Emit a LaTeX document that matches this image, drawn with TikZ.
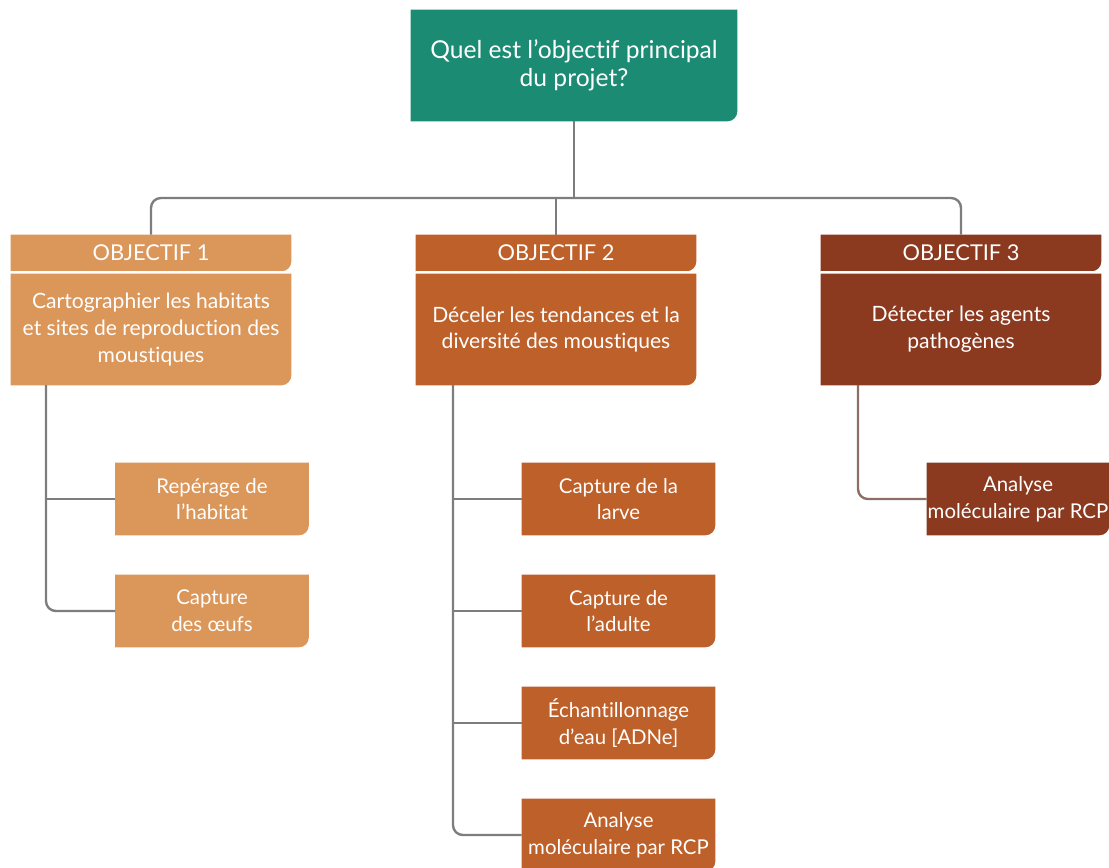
\documentclass[tikz,border=0pt]{standalone}
\usepackage{fontspec}
\setmainfont{Lato}[Ligatures={NoCommon,NoRare,NoContextual}]
\usetikzlibrary{positioning, backgrounds, calc}

\definecolor{questionTeal}{RGB}{27,139,116}
\definecolor{objOne}{RGB}{219,150,90}
\definecolor{objTwo}{RGB}{190,96,42}
\definecolor{objThree}{RGB}{139,58,32}
\definecolor{linkGray}{RGB}{125,125,128}
\definecolor{linkBrown}{RGB}{140,110,100}

\tikzset{
	card/.style={rectangle, text=white, align=center, inner sep=0pt, font=\fontsize{14.5}{19}\selectfont},
	header/.style={card, minimum width=7cm, minimum height=0.9cm, font=\fontsize{15.5}{19}\selectfont},
	body/.style={card, minimum width=7cm, minimum height=2.775cm, font=\fontsize{15}{19}\selectfont},
	task/.style={card, minimum width=4.825cm, minimum height=1.8cm},
	link/.style={draw=linkGray, line width=1.7pt, rounded corners=7pt},
}

% fill with the bottom right corner rounded
\newcommand{\cardfill}[2]{\fill[#2] (#1.north west) -- (#1.north east) --
	([yshift=7pt]#1.south east) arc[start angle=0, end angle=-90, radius=7pt] --
	(#1.south west) -- cycle;}

\begin{document}
\begin{tikzpicture}[x=0.025cm, y=-0.025cm]
			
			\useasboundingbox (0,0) rectangle (1109,867);
			
			%Main question
			\node (question) at (574,65.5) [card, minimum width=8.15cm, minimum height=2.775cm,
			font=\fontsize{17.5}{19.5}\selectfont]{Quel est l’objectif principal\\ du projet?};
			
			%Objective 1
			\node (headOne) at (151,253) [header]{OBJECTIF 1};
			\node (bodyOne) at (151,329.5) [body]{Cartographier les habitats\\ et sites de reproduction des\\ moustiques};
			
			%Objective 2
			\node (headTwo) at (556,253) [header]{OBJECTIF 2};
			\node (bodyTwo) at (556,329.5) [body]{Déceler les tendances et la\\ diversité des moustiques};
			
			%Objective 3
			\node (headThree) at (961,253) [header]{OBJECTIF 3};
			\node (bodyThree) at (961,329.5) [body]{Détecter les agents\\ pathogènes};
			
			%Tasks of objective 1
			\node (habitat) at (212,499) [task]{Repérage de\\ l’habitat};
			\node (eggs) at (212,611) [task]{Capture\\ des œufs};
			
			%Tasks of objective 2
			\node (larva) at (618.5,499) [task]{Capture de la\\ larve};
			\node (adult) at (618.5,611) [task]{Capture de\\ l’adulte};
			\node (water) at (618.5,723) [task]{Échantillonnage\\ d’eau [ADNe]};
			\node (pcrTwo) at (618.5,835) [task]{Analyse\\ moléculaire par RCP};
			
			%Task of objective 3
			\node (pcrThree) at (1018,499) [task, minimum width=4.55cm]{Analyse\\ moléculaire par RCP};
			
			%Fills
			\begin{scope}[on background layer]
				\cardfill{question}{questionTeal}
				\foreach \n in {headOne, bodyOne, habitat, eggs} {\cardfill{\n}{objOne}}
				\foreach \n in {headTwo, bodyTwo, larva, adult, water, pcrTwo} {\cardfill{\n}{objTwo}}
				\foreach \n in {headThree, bodyThree, pcrThree} {\cardfill{\n}{objThree}}
				\fill[white] (headOne.south west) rectangle ([yshift=-1.5pt]headOne.south east);
				\fill[white] (headTwo.south west) rectangle ([yshift=-1.5pt]headTwo.south east);
				\fill[white] (headThree.south west) rectangle ([yshift=-1.5pt]headThree.south east);
			\end{scope}
			
			%Links
			\coordinate (bus) at (574,198);
			\coordinate (trunkOne) at (46,385);
			\coordinate (trunkTwo) at (453,385);
			\coordinate (trunkThree) at (858,385);
			
			\draw[link] (question.south) -- (bus);
			\draw[link] (headOne.north) |- (bus) -| (headThree.north);
			\draw[link] (headTwo.north) -- (headTwo.north |- bus);
			
			\draw[link] (trunkOne) |- (eggs.west);
			\draw[link] (trunkOne |- habitat.west) -- (habitat.west);
			
			\draw[link] (trunkTwo) |- (pcrTwo.west);
			\foreach \n in {larva, adult, water} {\draw[link] (trunkTwo |- \n.west) -- (\n.west);}
			
			\draw[link, draw=linkBrown] (trunkThree) |- (pcrThree.west);
			
			\end{tikzpicture}
\end{document}
